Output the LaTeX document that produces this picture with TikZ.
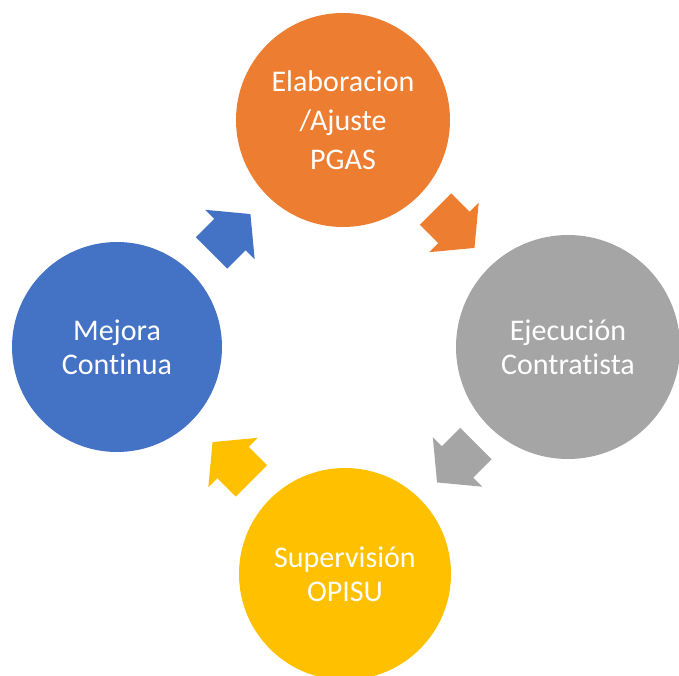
\documentclass[tikz,border=0pt]{standalone}
\usepackage{fontspec}
\setmainfont{Carlito}[Ligatures=NoCommon]
\definecolor{cOrange}{HTML}{ED7D31}
\definecolor{cGray}{HTML}{A5A5A5}
\definecolor{cBlue}{HTML}{4472C4}
\definecolor{cYellow}{HTML}{FFC000}
\tikzset{
  stagecircle/.style={circle, draw=none, inner sep=0pt, text=white, align=center,
    font=\fontsize{30}{34}\selectfont},
}
\newcommand{\myblockarrow}[3]{%
  \fill[#1, shift={(#2)}, rotate=#3]
    (-27.5,-22.25) -- (-1.5,-22.25) -- (-1.5,-35) -- (27.5,0) -- (-1.5,35)
    -- (-1.5,22.25) -- (-27.5,22.25) -- cycle;}
\begin{document}
\begin{tikzpicture}[x=1pt,y=1pt]
\useasboundingbox (0,0) rectangle (679,675);
% circles
\node[stagecircle, fill=cOrange, minimum size=214pt,
  font=\fontsize{30}{39}\selectfont] (elab) at (343,555) {Elaboracion\\/Ajuste\\PGAS};
\node[stagecircle, fill=cGray, minimum size=224pt] (ejec) at (568,328) {Ejecución\\Contratista};
\node[stagecircle, fill=cYellow, minimum size=212pt] (sup) at (345,101) {Supervisión\\OPISU};
\node[stagecircle, fill=cBlue, minimum size=210pt] (mej) at (117,328) {Mejora\\Continua};
% arrows
\coordinate (a12) at (455,446.5);
\coordinate (a23) at (456.5,212);
\coordinate (a34) at (232,213.5);
\coordinate (a41) at (231,441.5);
\myblockarrow{cOrange}{a12}{-45}
\myblockarrow{cGray}{a23}{-135}
\myblockarrow{cYellow}{a34}{135}
\myblockarrow{cBlue}{a41}{45}
\end{tikzpicture}
\end{document}
